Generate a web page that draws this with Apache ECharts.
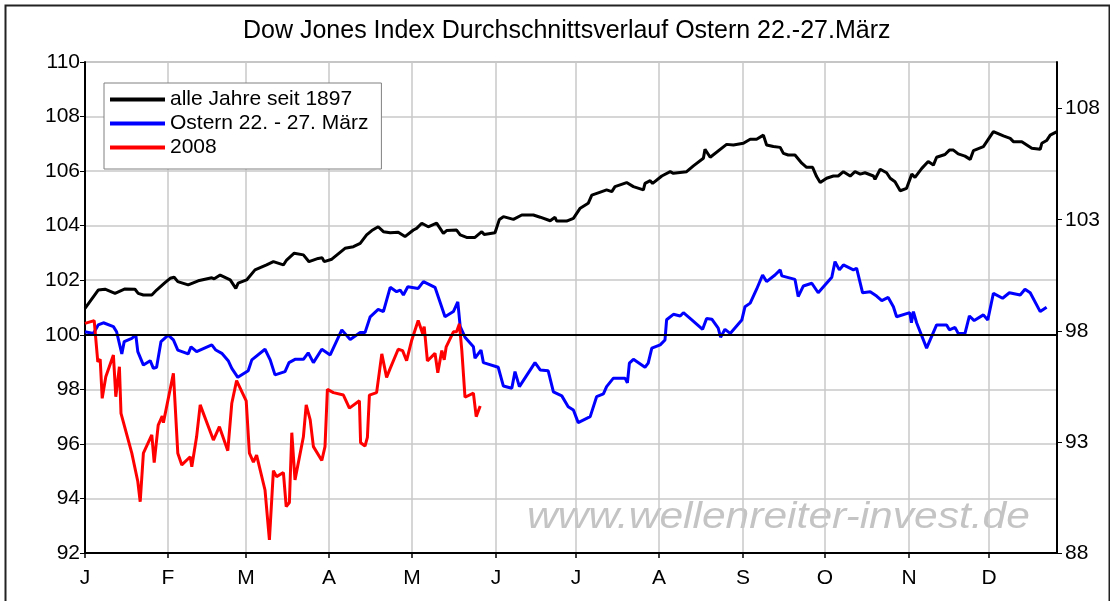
<!DOCTYPE html>
<html>
<head>
  <meta charset="UTF-8">
  <title>Dow Jones Index Durchschnittsverlauf Ostern</title>
  <script src="https://cdn.jsdelivr.net/npm/echarts@6/dist/echarts.min.js"></script>
  <style>
    html, body { margin: 0; padding: 0; background: #fff; }
    #chart { width: 1110px; height: 601px; }
  </style>
</head>
<body>
  <div id="chart"></div>
  <script>
    // x = Handelstag im Jahr, y = Indexstand (Jahresanfang = 100)
    const monthStarts = [0, 20.75, 40.25, 61, 81.75, 102.75, 122.75, 143.5, 164.5, 185, 206, 226];
    const monthLabels = ['J', 'F', 'M', 'A', 'M', 'J', 'J', 'A', 'S', 'O', 'N', 'D'];
    const rightTicks = [88, 93, 98, 103, 108];

    const allYears = [
      [0, 100.97], [3.3, 101.64], [5, 101.67], [7.5, 101.52], [10, 101.68], [12.5, 101.67], [13.3, 101.52],
      [14.6, 101.46], [16.7, 101.46], [17.9, 101.64], [20, 101.91], [21.3, 102.07], [22.3, 102.11], [23.2, 101.95],
      [25.8, 101.83], [28.3, 101.98], [31.7, 102.09], [32.3, 102.05], [33.8, 102.19], [36.3, 102.01], [37.7, 101.7],
      [38.3, 101.89], [40.4, 102.01], [42.5, 102.38], [45.4, 102.56], [47.1, 102.68], [49.6, 102.56], [50.4, 102.74],
      [52.3, 102.99], [54.6, 102.93], [56, 102.68], [58.3, 102.8], [59.3, 102.82], [59.8, 102.68], [61.7, 102.77],
      [65, 103.17], [67.1, 103.23], [68.8, 103.35], [70.4, 103.66], [71.7, 103.82], [73.3, 103.96], [74.6, 103.78],
      [76.3, 103.74], [78.3, 103.76], [80, 103.6], [82.1, 103.84], [82.9, 103.9], [84.2, 104.09], [85.8, 103.96],
      [87.9, 104.09], [89.6, 103.72], [90.4, 103.82], [92.9, 103.84], [93.8, 103.66], [95.4, 103.57], [97.5, 103.57],
      [99.2, 103.78], [99.8, 103.68], [102.5, 103.74], [103.6, 104.23], [104.6, 104.33], [107.1, 104.23], [109.2, 104.39],
      [112.1, 104.39], [113.8, 104.31], [116.3, 104.18], [117.5, 104.31], [117.9, 104.17], [120.4, 104.17], [122.1, 104.27],
      [123.8, 104.64], [125.8, 104.82], [126.7, 105.12], [129.2, 105.25], [130.4, 105.31], [131.7, 105.25], [132.5, 105.43],
      [135.4, 105.58], [137.1, 105.43], [139.6, 105.31], [140, 105.55], [141.3, 105.65], [141.9, 105.55], [144.2, 105.82],
      [146.3, 105.98], [147.1, 105.92], [150.4, 105.98], [152.1, 106.19], [154.6, 106.47], [155, 106.8], [156.3, 106.51],
      [160.4, 106.98], [162.1, 106.96], [164.6, 107.02], [166.3, 107.17], [167.9, 107.17], [169.6, 107.32], [170.4, 106.96],
      [172.1, 106.9], [173.8, 106.87], [174.6, 106.65], [175.8, 106.59], [177.5, 106.59], [179.2, 106.29], [180.4, 106.14],
      [181.9, 106.14], [182.9, 105.8], [183.8, 105.58], [185.4, 105.74], [187.1, 105.82], [188.3, 105.82], [189.6, 105.98],
      [191.3, 105.82], [192.5, 105.98], [193.8, 105.89], [195, 105.94], [197.1, 105.82], [197.5, 105.7], [198.8, 106.07],
      [200.4, 105.94], [201.3, 105.74], [202.5, 105.61], [203.8, 105.28], [205.4, 105.37], [206.7, 105.89], [207.5, 105.77],
      [209.2, 106.1], [210.8, 106.35], [212.1, 106.22], [212.9, 106.51], [215, 106.61], [216.1, 106.77], [217.1, 106.77],
      [218.3, 106.63], [220, 106.55], [221.3, 106.43], [222.1, 106.75], [224.6, 106.9], [227.1, 107.45], [229.6, 107.29],
      [231.3, 107.2], [232.1, 107.08], [234.2, 107.08], [236.7, 106.84], [238.8, 106.8], [239.2, 107.02], [240.4, 107.12],
      [241.3, 107.32], [243, 107.45]
    ];

    const easter = [
      [0, 100.11], [2.1, 100.05], [3.3, 100.36], [4.6, 100.44], [7.1, 100.3], [7.9, 100.11], [9.2, 99.3], [9.8, 99.75],
      [11.7, 99.87], [12.7, 99.99], [13.2, 99.38], [14.6, 98.89], [16.3, 99.05], [17.1, 98.77], [17.9, 98.81], [19, 99.75],
      [20.8, 99.99], [22.1, 99.81], [23.2, 99.44], [25.8, 99.3], [26.5, 99.56], [27.9, 99.38], [31.7, 99.63], [32.7, 99.44],
      [34.2, 99.32], [35.8, 99.05], [36.7, 98.77], [38.2, 98.44], [40.8, 98.68], [41.7, 99.08], [45, 99.47], [46.3, 99.08],
      [47.5, 98.53], [50, 98.65], [51, 98.98], [52.5, 99.1], [54.6, 99.1], [55.8, 99.34], [57.1, 98.98], [59.2, 99.47],
      [61.3, 99.26], [64.2, 100.18], [66.3, 99.83], [68.8, 100.08], [70, 100.08], [71.3, 100.66], [73.3, 100.93],
      [74.6, 100.85], [76.3, 101.74], [77.9, 101.58], [78.8, 101.64], [79.6, 101.46], [80.7, 101.76], [83.3, 101.7],
      [84.6, 101.95], [87.5, 101.74], [90, 100.66], [92.1, 100.85], [93.2, 101.21], [93.8, 100.3], [95, 99.91],
      [97.1, 99.56], [97.5, 99.14], [99, 99.44], [99.6, 98.98], [103.3, 98.81], [104.6, 98.12], [106.7, 98.04],
      [107.5, 98.65], [108.6, 98.1], [112.5, 98.98], [113.8, 98.71], [115.8, 98.68], [117.1, 97.91], [119.2, 97.76],
      [120.8, 97.36], [122.1, 97.24], [123.3, 96.78], [126.3, 97.0], [127.9, 97.73], [129.6, 97.83], [130.4, 98.1],
      [132.1, 98.41], [135, 98.41], [135.6, 98.24], [136.1, 98.96], [137.1, 99.1], [140, 98.81], [140.8, 98.96],
      [141.7, 99.51], [143.8, 99.63], [145, 99.81], [145.4, 100.55], [147.1, 100.75], [148.8, 100.69], [149.6, 100.81],
      [151.7, 100.55], [154.4, 100.2], [155.4, 100.6], [156.7, 100.57], [158.3, 100.24], [158.9, 99.91], [160, 100.2],
      [161.3, 100.05], [164.2, 100.54], [165, 101.03], [166.3, 101.16], [167.9, 101.67], [169.4, 102.19], [170.4, 101.95],
      [172.5, 102.19], [173.8, 102.38], [174.2, 102.16], [177.5, 102.03], [178.3, 101.4], [179.6, 101.79], [181.7, 101.89],
      [183.3, 101.54], [186.7, 102.11], [187.5, 102.68], [188.6, 102.38], [189.6, 102.56], [192.1, 102.38], [192.9, 102.44],
      [194.4, 101.54], [196.3, 101.58], [197.9, 101.42], [199.2, 101.25], [200.8, 101.37], [202.1, 101.03], [202.9, 100.66],
      [206.2, 100.81], [206.6, 100.44], [207.1, 100.85], [207.9, 100.44], [210.4, 99.51], [212.9, 100.36], [215.4, 100.36],
      [216.1, 100.18], [217.5, 100.27], [218.3, 100.05], [220, 100.05], [221.1, 100.69], [222.3, 100.52], [224.6, 100.73],
      [225.7, 100.54], [227.1, 101.52], [229.4, 101.34], [231.1, 101.54], [233.8, 101.46], [235, 101.67], [236.3, 101.54],
      [238.8, 100.85], [240.4, 101.01]
    ];

    const year2008 = [
      [0, 100.42], [2.3, 100.52], [3.2, 99.01], [3.8, 99.1], [4.3, 97.67], [5.2, 98.46], [7.1, 99.26], [7.7, 97.73],
      [8.6, 98.83], [9, 97.12], [11.7, 95.66], [13.2, 94.62], [13.8, 93.88], [14.6, 95.66], [16.7, 96.33], [17.3, 95.31],
      [18.3, 96.69], [19.3, 97.02], [19.6, 96.78], [22.1, 98.59], [23.2, 95.66], [24.2, 95.23], [26.3, 95.53], [26.7, 95.16],
      [27.9, 96.26], [28.8, 97.43], [32.1, 96.14], [33.6, 96.63], [35.7, 95.75], [36.7, 97.49], [37.9, 98.32], [40.3, 97.58],
      [41.1, 95.66], [42.1, 95.33], [42.9, 95.59], [45, 94.31], [46.1, 92.48], [47.1, 95.02], [47.9, 94.8], [49.6, 94.95],
      [50.3, 93.7], [51.1, 93.85], [51.7, 96.41], [52.5, 94.68], [54.6, 96.26], [55.3, 97.43], [56.3, 96.88], [57.1, 95.9],
      [59.2, 95.39], [60, 95.9], [60.6, 98.0], [62.1, 97.88], [64.6, 97.79], [66.1, 97.31], [68.6, 97.58], [68.9, 96.04],
      [70, 95.92], [70.6, 96.24], [71.1, 97.79], [72.9, 97.88], [74.2, 99.3], [75.4, 98.44], [76.3, 98.77], [78.3, 99.47],
      [79.4, 99.42], [80.4, 99.05], [81.7, 99.81], [83.3, 100.52], [84.4, 100.05], [84.8, 100.3], [85.6, 99.04], [87.5, 99.32],
      [88.2, 98.61], [89.2, 99.42], [89.8, 99.08], [90.3, 99.56], [92.1, 100.11], [92.9, 100.11], [93.6, 100.4], [94.2, 99.44],
      [95, 97.71], [97.1, 97.86], [97.8, 97.0], [98.8, 97.39]
    ];

    const font = "'Liberation Sans', Arial, sans-serif";
    const chart = echarts.init(document.getElementById('chart'), null, { renderer: 'canvas' });

    const option = {
      animation: false,
      backgroundColor: '#fff',
      title: {
        text: 'Dow Jones Index Durchschnittsverlauf Ostern 22.-27.März',
        left: 243,
        top: 19,
        padding: 0,
        textStyle: { fontFamily: font, fontSize: 25, fontWeight: 'normal', color: '#000' }
      },
      legend: {
        orient: 'vertical',
        left: 104,
        top: 83,
        padding: [6, 13, 11, 6],
        icon: 'rect',
        itemWidth: 55,
        itemHeight: 4,
        itemGap: 3,
        borderColor: '#808080',
        borderWidth: 1,
        backgroundColor: '#fff',
        textStyle: { fontFamily: font, fontSize: 21, color: '#000' },
        data: ['alle Jahre seit 1897', 'Ostern 22. - 27. März', '2008']
      },
      grid: {
        left: 85, right: 53, top: 62, bottom: 48,
        show: true, borderColor: '#808080', borderWidth: 1
      },
      xAxis: {
        type: 'value',
        min: 0,
        max: 243,
        axisLine: { lineStyle: { color: '#000', width: 2 } },
        axisTick: { customValues: monthStarts, length: 5, lineStyle: { color: '#000', width: 1.5 } },
        axisLabel: {
          customValues: monthStarts,
          margin: 15,
          fontFamily: font, fontSize: 21, color: '#000',
          formatter: v => monthLabels[monthStarts.indexOf(v)] || ''
        },
        splitLine: { show: true, lineStyle: { color: '#c8c8c8', width: 1.5 } }
      },
      yAxis: [
        {
          type: 'value',
          min: 92, max: 110, interval: 2,
          axisLine: { show: true, lineStyle: { color: '#000', width: 2 } },
          axisTick: { show: true, length: 5, lineStyle: { color: '#000' } },
          axisLabel: { margin: 5, fontFamily: font, fontSize: 21, color: '#000' },
          splitLine: { show: true, lineStyle: { color: '#c8c8c8', width: 1.5 } }
        },
        {
          type: 'value',
          position: 'right',
          min: 88, max: 110.1,
          axisLine: { show: true, lineStyle: { color: '#000', width: 2 } },
          axisTick: { show: true, customValues: rightTicks, length: 5, lineStyle: { color: '#000' } },
          axisLabel: { customValues: rightTicks, margin: 8, fontFamily: font, fontSize: 21, color: '#000' },
          splitLine: { show: false }
        }
      ],
      series: [
        {
          name: 'alle Jahre seit 1897',
          type: 'line',
          data: allYears,
          symbol: 'none',
          color: '#000',
          lineStyle: { color: '#000', width: 3 },
          markLine: {
            silent: true,
            symbol: 'none',
            label: { show: false },
            lineStyle: { color: '#000', width: 2, type: 'solid' },
            data: [{ yAxis: 100 }]
          }
        },
        {
          name: 'Ostern 22. - 27. März',
          type: 'line',
          data: easter,
          symbol: 'none',
          color: '#0000ff',
          lineStyle: { color: '#0000ff', width: 3 }
        },
        {
          name: '2008',
          type: 'line',
          data: year2008,
          symbol: 'none',
          color: '#ff0000',
          lineStyle: { color: '#ff0000', width: 3 }
        }
      ],
      graphic: [
        {
          type: 'text',
          x: 527,
          y: 499,
          scaleX: 1.15,
          silent: true,
          style: {
            text: 'www.wellenreiter-invest.de',
            fontFamily: font, fontSize: 37, fontStyle: 'italic',
            fill: '#c4c4c4'
          }
        },
        {
          type: 'rect',
          left: 3, top: 3,
          silent: true,
          shape: { width: 1104, height: 620 },
          style: { fill: 'none', stroke: '#222', lineWidth: 2 }
        }
      ]
    };

    chart.setOption(option);
  </script>
</body>
</html>
